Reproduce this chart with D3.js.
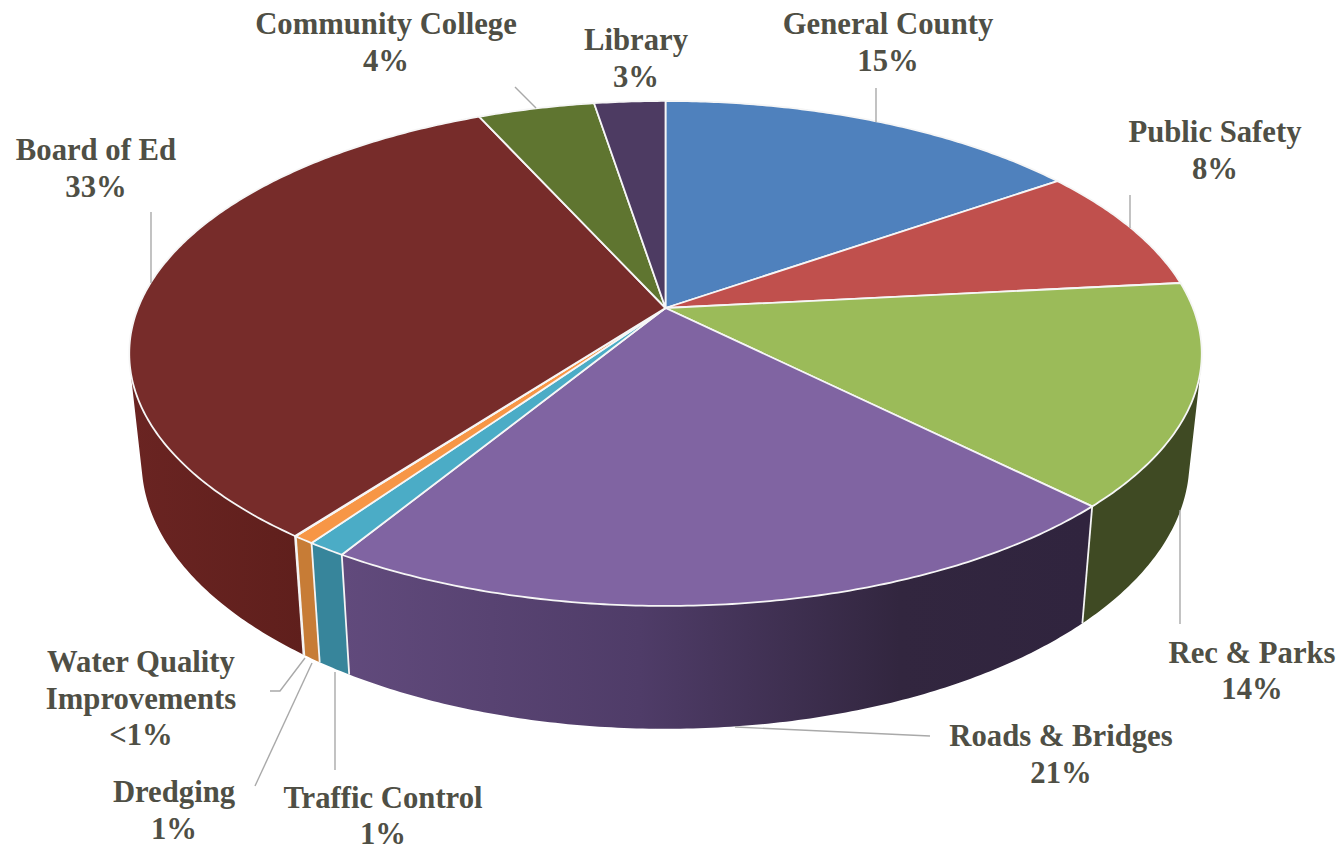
<!DOCTYPE html>
<html>
<head>
<meta charset="utf-8">
<title>Budget share by function</title>
<script src="https://cdn.jsdelivr.net/npm/d3@7/dist/d3.min.js"></script>
<style>
  html, body { margin: 0; padding: 0; background: #fff; }
  svg { display: block; }
  text { font-family: "Liberation Serif", serif; font-weight: 700; font-size: 30.7px; fill: #4f4f45; text-anchor: middle; }
</style>
</head>
<body>
<svg id="chart" width="1342" height="850"></svg>
<script>
// Share of the budget in percent, clockwise from twelve o'clock.
const categories = ["General County", "Public Safety", "Rec & Parks", "Roads & Bridges", "Traffic Control",
                    "Dredging", "Water Quality Improvements", "Board of Ed", "Community College", "Library"];
const shares = [15.3, 8.05, 14.2, 21.17, 1.0, 0.55, 0.03, 33.0, 4.2, 2.55];
const topColors = ["#4f81bd", "#c0504d", "#9bbb59", "#8064a2", "#4bacc6",
                   "#f79646", "#2c4d75", "#772c2a", "#5f7530", "#4d3b62"];
const wallColors = ["#3a5a80", "#8a3a38", "#3f4a23", "url(#roadsWall)", "#37859b",
                    "#c77c36", "#1f3654", "url(#boardWall)", "#465622", "#38294a"];

// Label placement: one centre point per label line, and the leader polyline for the slice.
const labelLayout = [
  { lines: ["General County"], x: 888, y: 34, leader: [[876, 88], [876, 122]] },
  { lines: ["Public Safety"], x: 1215, y: 142, leader: [[1130, 195], [1130, 228]] },
  { lines: ["Rec & Parks"], x: 1252, y: 662.5, leader: [[1180, 510], [1180, 624]] },
  { lines: ["Roads & Bridges"], x: 1061, y: 746, leader: [[735, 727], [930, 736]] },
  { lines: ["Traffic Control"], x: 383, y: 807.5, leader: [[335, 672], [335, 770]] },
  { lines: ["Dredging"], x: 174, y: 802, leader: [[312, 663], [255, 786]] },
  { lines: ["Water Quality", "Improvements"], x: 141, y: 672, leader: [[305, 658], [280, 691], [270, 691]] },
  { lines: ["Board of Ed"], x: 96, y: 160, leader: [[151, 212], [151, 283]] },
  { lines: ["Community College"], x: 386, y: 34, leader: [[515, 87], [536, 108]] },
  { lines: ["Library"], x: 636, y: 50, leader: null }
];

const lineGap = 36.5;
const svg = d3.select("#chart");

// Tilted disc: a unit circle is divided by its depth, then scaled to the page.
const tilt = 0.18;
const xScale = d3.scaleLinear().domain([-1, 1]).range([665.5 - 527.5, 665.5 + 527.5]);
const yScale = d3.scaleLinear().domain([-1, 1]).range([308 - 244.3, 308 + 244.3]);

function rimTop(a) {
  const u = Math.sin(a), v = -Math.cos(a), w = 1 - tilt * v;
  return [xScale(u / w), yScale(v / w)];
}

// The lower rim sits below the upper one; the drop grows toward the viewer.
function rimBottom(a) {
  const [x, y] = rimTop(a);
  return [665.5 + 0.977 * (x - 665.5), y + 117 + (y - 508) * 0.06];
}

const pie = d3.pie().sort(null).value(d => d).startAngle(0).endAngle(2 * Math.PI);
const arcs = pie(shares);
const hub = [xScale(0), yScale(0)];
const path = d3.line();

function sweep(a0, a1) {
  const steps = Math.max(2, Math.ceil((a1 - a0) / 0.01));
  return d3.range(steps + 1).map(i => a0 + (a1 - a0) * i / steps);
}

const defs = svg.append("defs");
function wallGradient(id, x1, x2, stops) {
  const g = defs.append("linearGradient").attr("id", id)
    .attr("gradientUnits", "userSpaceOnUse")
    .attr("x1", x1).attr("x2", x2).attr("y1", 0).attr("y2", 0);
  stops.forEach(s => g.append("stop").attr("offset", s[0]).attr("stop-color", s[1]));
}
wallGradient("roadsWall", 343, 1085, [[0, "#614a7c"], [0.4, "#4f3c68"], [0.75, "#32263f"], [1, "#30243e"]]);
wallGradient("boardWall", 130, 305, [[0, "#6a2422"], [1, "#5f1f1c"]]);

// A wall is a run of narrow quads, all wound the same way, so that together
// they fill as one shape whose silhouette follows the disc's tangents.
function wallPath(d) {
  const angles = sweep(d.startAngle, d.endAngle);
  return d3.pairs(angles).map(([a, b]) => {
    const quad = [rimTop(a), rimTop(b), rimBottom(b), rimBottom(a)];
    return path(d3.polygonArea(quad) < 0 ? quad.reverse() : quad) + "Z";
  }).join("");
}

// Side walls first, so the top faces cover whatever lies behind the disc.
svg.append("g").selectAll("path").data(arcs).join("path")
  .attr("d", wallPath)
  .attr("fill", (d, i) => wallColors[i]);

// White seams on the front of the wall where two slices meet.
svg.append("g").selectAll("line")
  .data(arcs.filter(d => rimTop(d.startAngle)[1] > 400))
  .join("line")
  .attr("x1", d => rimTop(d.startAngle)[0]).attr("y1", d => rimTop(d.startAngle)[1])
  .attr("x2", d => rimBottom(d.startAngle)[0]).attr("y2", d => rimBottom(d.startAngle)[1])
  .attr("stroke", "#f4f4f4").attr("stroke-width", 1.8);

// Top faces.
svg.append("g").selectAll("path").data(arcs).join("path")
  .attr("d", d => path([hub].concat(sweep(d.startAngle, d.endAngle).map(rimTop))) + "Z")
  .attr("fill", (d, i) => topColors[i])
  .attr("stroke", "#f6f6f6").attr("stroke-width", 1.8).attr("stroke-linejoin", "round");

// Leader lines.
svg.append("g").selectAll("path").data(labelLayout.filter(d => d.leader)).join("path")
  .attr("d", d => path(d.leader))
  .attr("fill", "none").attr("stroke", "#a9a9a9").attr("stroke-width", 1.4);

// Labels: category name lines followed by the percentage worked out from the share.
const percentText = v => v < 0.5 ? "<1%" : Math.round(v) + "%";
const labels = svg.append("g").selectAll("text").data(labelLayout).join("text")
  .attr("x", d => d.x).attr("y", d => d.y);
labels.each(function (d, i) {
  const text = d3.select(this);
  d.lines.concat(percentText(shares[i])).forEach((line, k) => {
    text.append("tspan").attr("x", d.x).attr("dy", k ? lineGap : 0).text(line);
  });
});
</script>
</body>
</html>
